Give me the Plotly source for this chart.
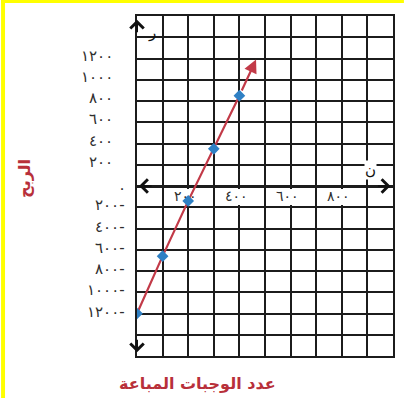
import plotly.graph_objects as go

# Meals sold against profit
meals = [0, 100, 200, 300, 400]
profit = [-1200, -660, -140, 350, 850]

# The profit line keeps going past the last point, ending in an arrow here
line_end_meals = 465
line_end_profit = 1190

x_tick_vals = [200, 400, 600, 800]
x_tick_text = ["٢٠٠", "٤٠٠", "٦٠٠", "٨٠٠"]
y_tick_vals = [1200, 1000, 800, 600, 400, 200, 0,
               -200, -400, -600, -800, -1000, -1200]
y_tick_text = ["١٢٠٠", "١٠٠٠", "٨٠٠", "٦٠٠", "٤٠٠", "٢٠٠", "٠",
               "٢٠٠-", "٤٠٠-", "٦٠٠-", "٨٠٠-", "١٠٠٠-", "١٢٠٠-"]

x_title = "عدد الوجبات المباعة"
y_title = "الربح"
x_axis_letter = "ن"
y_axis_letter = "ر"

# ---- page geometry (pixels) ----
FIG_W, FIG_H = 406, 398
M_L, M_R, M_T, M_B = 137, 11, 16, 42
PLOT_W = FIG_W - M_L - M_R
PLOT_H = FIG_H - M_T - M_B


def paper_x(px):
    return (px - M_L) / PLOT_W


def paper_y(py):
    return (FIG_H - M_B - py) / PLOT_H


GRID = "#1c1c1c"
RED = "#c23a48"
TITLE_RED = "#b8303a"
BLUE = "#2f80c4"
LABEL = "#2e2e2e"
FONT = "DejaVu Sans"

fig = go.Figure()

fig.add_trace(go.Scatter(
    x=meals, y=profit, mode="lines+markers",
    line=dict(color=RED, width=2.2),
    marker=dict(color=BLUE, size=9, symbol="diamond"),
    hoverinfo="skip", showlegend=False,
))

annotations = []

# arrow continuing the profit line
annotations.append(dict(
    x=line_end_meals, y=line_end_profit, xref="x", yref="y",
    ax=meals[-1], ay=profit[-1], axref="x", ayref="y",
    showarrow=True, arrowhead=2, arrowsize=1.2, arrowwidth=2.2,
    arrowcolor=RED, startstandoff=4, text="",
))

# arrowheads on both ends of each axis
for hx, hy, ox, oy in [(0, 1565, 0, 14), (0, -1565, 0, -14),
                       (990, 0, -14, 0), (8, 0, 14, 0)]:
    annotations.append(dict(
        x=hx, y=hy, xref="x", yref="y", ax=ox, ay=oy,
        showarrow=True, arrowhead=4, arrowsize=1.3, arrowwidth=2,
        arrowcolor="#111111", text="",
    ))

# axis letters
annotations.append(dict(
    x=58, y=1440, xref="x", yref="y", text=y_axis_letter, showarrow=False,
    font=dict(family=FONT, size=15, color="#111111"),
))
annotations.append(dict(
    x=912, y=150, xref="x", yref="y", text=x_axis_letter, showarrow=False,
    bgcolor="white", borderpad=0,
    font=dict(family=FONT, size=15, color="#111111"),
))

# x tick labels sit in the row just under the horizontal axis
for v, t in zip(x_tick_vals, x_tick_text):
    annotations.append(dict(
        x=v, y=0, xref="x", yref="y", text=t, showarrow=False,
        xanchor="center", yanchor="middle", yshift=-10, xshift=-3,
        font=dict(family=FONT, size=14, color=LABEL),
    ))

# y tick labels to the left of the vertical axis
for v, t in zip(y_tick_vals, y_tick_text):
    if v > 0:
        right_px, shift = 115, 3
    elif v < 0:
        right_px, shift = 127, 2
    else:
        right_px, shift = 128, -2
    annotations.append(dict(
        x=paper_x(right_px), y=v, xref="paper", yref="y", text=t,
        showarrow=False, xanchor="right", yanchor="middle", yshift=shift,
        font=dict(family=FONT, size=15, color=LABEL),
    ))

# axis titles
annotations.append(dict(
    x=paper_x(23), y=paper_y(178), xref="paper", yref="paper",
    xanchor="center", yanchor="middle",
    text=y_title, textangle=-90, showarrow=False,
    font=dict(family=FONT, size=16, color=TITLE_RED, weight="bold"),
))
annotations.append(dict(
    x=paper_x(198), y=paper_y(383), xref="paper", yref="paper",
    xanchor="center", yanchor="middle",
    text=x_title, showarrow=False,
    font=dict(family=FONT, size=16, color=TITLE_RED, weight="bold"),
))

shapes = []
# blank out the grid behind the x tick labels
for v in x_tick_vals:
    shapes.append(dict(
        type="rect", xref="x", yref="y", layer="between",
        xsizemode="pixel", xanchor=v, x0=-14, x1=12,
        ysizemode="pixel", yanchor=0, y0=-3, y1=-19,
        fillcolor="white", line=dict(width=0),
    ))

# yellow edge of the page
shapes.append(dict(
    type="rect", xref="paper", yref="paper", layer="above",
    x0=paper_x(0), x1=paper_x(4), y0=paper_y(FIG_H), y1=paper_y(0),
    fillcolor="#ffff00", line=dict(width=0),
))
shapes.append(dict(
    type="rect", xref="paper", yref="paper", layer="above",
    x0=paper_x(0), x1=paper_x(FIG_W), y0=paper_y(3), y1=paper_y(0),
    fillcolor="#ffff00", line=dict(width=0),
))

fig.update_layout(
    width=FIG_W, height=FIG_H,
    margin=dict(l=M_L, r=M_R, t=M_T, b=M_B, pad=0),
    paper_bgcolor="white", plot_bgcolor="white",
    showlegend=False,
    annotations=annotations, shapes=shapes,
    xaxis=dict(
        range=[0, 1000], dtick=100, tick0=0,
        showgrid=True, gridcolor=GRID, gridwidth=2,
        zeroline=True, zerolinecolor=GRID, zerolinewidth=3,
        showline=True, mirror=True, linecolor=GRID, linewidth=2,
        showticklabels=False, ticks="", fixedrange=True,
    ),
    yaxis=dict(
        range=[-1600, 1600], dtick=200, tick0=0,
        showgrid=True, gridcolor=GRID, gridwidth=2,
        zeroline=True, zerolinecolor=GRID, zerolinewidth=2.5,
        showline=True, mirror=True, linecolor=GRID, linewidth=2,
        showticklabels=False, ticks="", fixedrange=True,
    ),
)

fig.write_html("out.html")
